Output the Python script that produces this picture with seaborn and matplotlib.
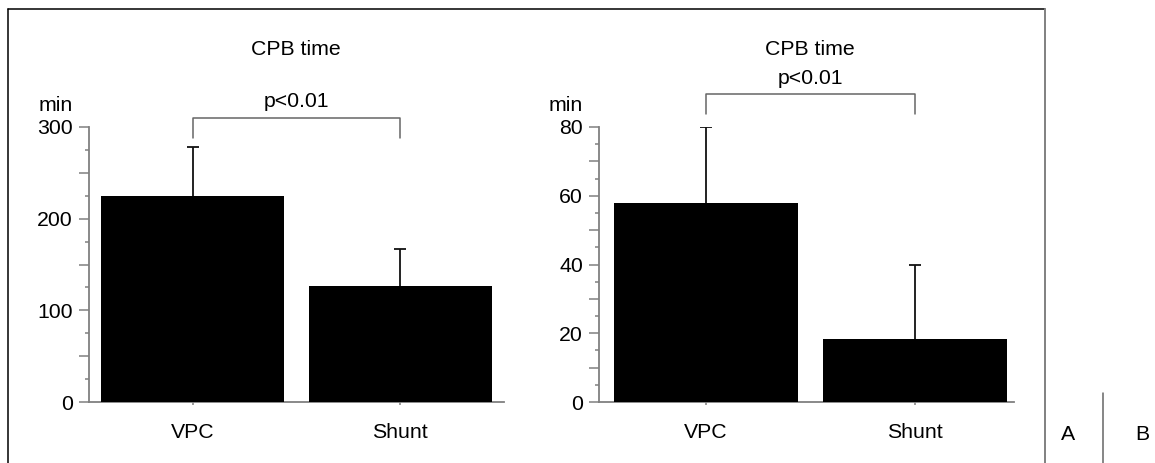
import matplotlib
matplotlib.use('Agg')
import matplotlib.pyplot as plt
from matplotlib.lines import Line2D
import numpy as np
import seaborn as sns

groups = ['VPC', 'Shunt']
# panel A: CPB time (min)
means_a = [224.7, 126.5]
sd_a = [54.0, 40.0]
# panel B: CPB time (min)
means_b = [58.0, 18.2]
sd_b = [22.0, 21.8]

sns.set_style('white')
plt.rcParams['font.family'] = ['Liberation Sans', 'DejaVu Sans']
plt.rcParams['text.color'] = 'black'
plt.rcParams['xtick.labelcolor'] = 'black'
plt.rcParams['ytick.labelcolor'] = 'black'

W, H = 1155, 463
fs = 15.3
fig = plt.figure(figsize=(W / 100, H / 100), dpi=100)

axis_grey = '#808080'


def panel(rect, means, sd, ymax, major, minor, labelstep, xlim, brk, p_y):
    ax = fig.add_axes(rect)
    sns.barplot(x=groups, y=means, color='black', saturation=1, width=0.88,
                errorbar=None, ax=ax, zorder=3, linewidth=0)
    # upper half of the SD bars only
    _, caps, _ = ax.errorbar([0, 1], means, yerr=[[0, 0], sd], fmt='none',
                             ecolor='#111111', elinewidth=1.3, capsize=4.3,
                             capthick=1.3, zorder=2)
    caps[0].set_visible(False)
    sns.despine(ax=ax)
    for s in ['left', 'bottom']:
        ax.spines[s].set_color(axis_grey)
        ax.spines[s].set_linewidth(1.3)
    ticks = np.arange(0, ymax + 1, major)
    ax.set_yticks(ticks)
    ax.set_yticklabels([f'{t:g}' if t % labelstep == 0 else '' for t in ticks])
    ax.set_yticks(np.arange(0, ymax + 1, minor), minor=True)
    ax.set_ylim(0, ymax)
    ax.set_xlim(*xlim)
    ax.tick_params(axis='y', which='major', direction='out', length=7.5, width=1.1,
                   color=axis_grey, pad=4.3, labelsize=fs, left=True)
    ax.tick_params(axis='y', which='minor', direction='out', length=3, width=1.1,
                   color=axis_grey, left=True)
    ax.tick_params(axis='x', direction='out', length=2.4, width=1.1, color=axis_grey,
                   pad=13, labelsize=fs, bottom=True)
    ax.set_xlabel('')
    ax.set_ylabel('')
    ax.grid(False)
    # significance bracket
    lo, hi = brk
    ax.plot([0, 0, 1, 1], [lo, hi, hi, lo], color='#666666', lw=1.1, clip_on=False)
    ax.text(0.5, p_y, 'p<0.01', ha='center', va='baseline', fontsize=fs)
    return ax


panel([89 / W, 1 - 402 / H, 415 / W, 275 / H], means_a, sd_a, 300, 50, 25, 100,
      (-0.5, 1.5), (288, 309.5), 322)
panel([599.3 / W, 1 - 402 / H, 415 / W, 275 / H], means_b, sd_b, 80, 10, 5, 20,
      (-0.51, 1.475), (83.7, 89.5), 92.6)

# titles and units
for x in [296, 810]:
    fig.text(x / W, 1 - 55 / H, 'CPB time', ha='center', va='baseline', fontsize=fs)
for x in [73, 583]:
    fig.text(x / W, 1 - 111 / H, 'min', ha='right', va='baseline', fontsize=fs)

# outer frame
fig.add_artist(Line2D([8 / W, 8 / W], [0, 1 - 9 / H], color='black', lw=1.1))
fig.add_artist(Line2D([8 / W, 1045 / W], [1 - 9 / H, 1 - 9 / H], color='black', lw=1.1))
fig.add_artist(Line2D([1045 / W, 1045 / W], [0, 1 - 9 / H], color=axis_grey, lw=1.4))
fig.add_artist(Line2D([1103 / W, 1103 / W], [0, 1 - 393 / H], color='#666666', lw=1.1))
fig.text(1068 / W, 1 - 440 / H, 'A', ha='center', va='baseline', fontsize=fs)
fig.text(1142 / W, 1 - 440 / H, 'B', ha='center', va='baseline', fontsize=fs)

fig.savefig('out.png', dpi=100)
